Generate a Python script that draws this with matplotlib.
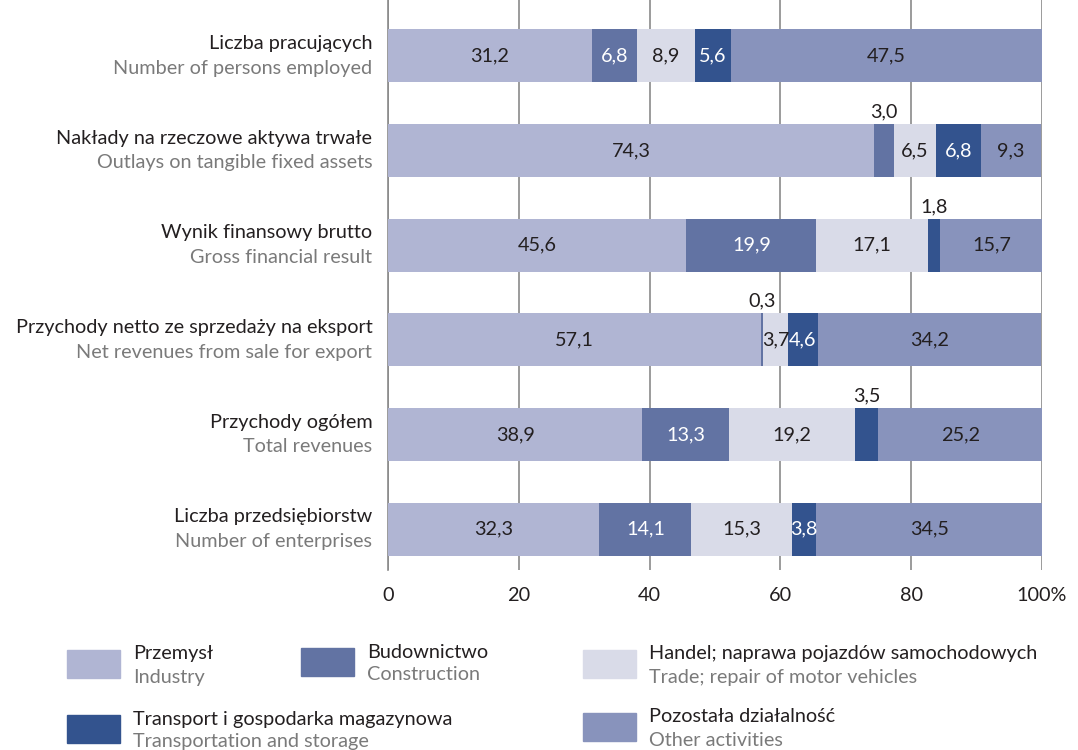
import matplotlib
matplotlib.use("Agg")
import matplotlib.pyplot as plt
from matplotlib.patches import Rectangle

plt.rcParams['font.family'] = ['Lato', 'DejaVu Sans']

rows_pl = [
    "Liczba pracujących",
    "Nakłady na rzeczowe aktywa trwałe",
    "Wynik finansowy brutto",
    "Przychody netto ze sprzedaży na eksport",
    "Przychody ogółem",
    "Liczba przedsiębiorstw",
]
rows_en = [
    "Number of persons employed",
    "Outlays on tangible fixed assets",
    "Gross financial result",
    "Net revenues from sale for export",
    "Total revenues",
    "Number of enterprises",
]

series_pl = ["Przemysł", "Budownictwo", "Handel; naprawa pojazdów samochodowych",
             "Transport i gospodarka magazynowa", "Pozostała działalność"]
series_en = ["Industry", "Construction", "Trade; repair of motor vehicles",
             "Transportation and storage", "Other activities"]

przemysl = [31.2, 74.3, 45.6, 57.1, 38.9, 32.3]
budownictwo = [6.8, 3.0, 19.9, 0.3, 13.3, 14.1]
handel = [8.9, 6.5, 17.1, 3.7, 19.2, 15.3]
transport = [5.6, 6.8, 1.8, 4.6, 3.5, 3.8]
pozostala = [47.5, 9.3, 15.7, 34.2, 25.2, 34.5]

x_ticks = [0, 20, 40, 60, 80, 100]
x_ticklabels = ["0", "20", "40", "60", "80", "100%"]

colors = ["#B0B5D3", "#6273A3", "#D9DBE8", "#33538E", "#8893BC"]
text_colors = ["#231F20", "white", "#231F20", "white", "#231F20"]
series = [przemysl, budownictwo, handel, transport, pozostala]

FS = 14.3

fig = plt.figure(figsize=(10.78, 7.5), dpi=100)
ax = fig.add_axes([388 / 1078, 1 - 570 / 750, (1042 - 388) / 1078, 570 / 750])

ypos = list(range(len(rows_pl)))
left = [0.0] * len(ypos)
bar_h = 0.56
for vals, col, tcol in zip(series, colors, text_colors):
    ax.barh(ypos, vals, left=left, height=bar_h, color=col, zorder=2)
    for y, v, l in zip(ypos, vals, left):
        label = f"{v:.1f}".replace(".", ",")
        cx = l + v / 2
        if v < 3.6:
            ax.text(cx, y - bar_h / 2 - 0.04, label, ha="center", va="bottom",
                    fontsize=FS, color="#231F20", zorder=3)
        else:
            ax.text(cx, y, label, ha="center", va="center",
                    fontsize=FS, color=tcol, zorder=3)
    left = [a + b for a, b in zip(left, vals)]

ax.set_xlim(0, 100)
ax.set_ylim(5.43, -0.59)
ax.set_xticks(x_ticks)
ax.set_xticklabels(x_ticklabels, fontsize=FS, color="#231F20")
ax.tick_params(axis="x", length=0, pad=12)
ax.set_yticks([])
for s in ["top", "right", "bottom"]:
    ax.spines[s].set_visible(False)
ax.spines["left"].set_color("#8A8A8A")
ax.spines["left"].set_linewidth(1.2)
ax.spines["left"].set_zorder(1)
ax.grid(axis="x", color="#8A8A8A", linewidth=1.2, zorder=0)
ax.set_axisbelow(True)

# two-line row labels: Polish in black, English in grey
for y, pl, en in zip(ypos, rows_pl, rows_en):
    ax.text(-2.4, y - 0.13, pl, ha="right", va="center", fontsize=FS,
            color="#231F20", clip_on=False)
    ax.text(-2.4, y + 0.13, en, ha="right", va="center", fontsize=FS,
            color="#7A7A7A", clip_on=False)

# legend drawn in figure pixel coordinates
W, H = 1078, 750
legend_pos = [(67, 650), (301, 648), (583, 650), (67, 715), (583, 713)]
for (px, py), col, pl, en in zip(legend_pos, colors, series_pl, series_en):
    fig.patches.append(Rectangle((px / W, 1 - (py + 28) / H), 53 / W, 28 / H,
                                 transform=fig.transFigure, color=col))
    fig.text((px + 66) / W, 1 - (py + 4) / H, pl, ha="left", va="center",
             fontsize=FS, color="#231F20")
    fig.text((px + 66) / W, 1 - (py + 27) / H, en, ha="left", va="center",
             fontsize=FS, color="#7A7A7A")

fig.savefig("out.png", dpi=100)
